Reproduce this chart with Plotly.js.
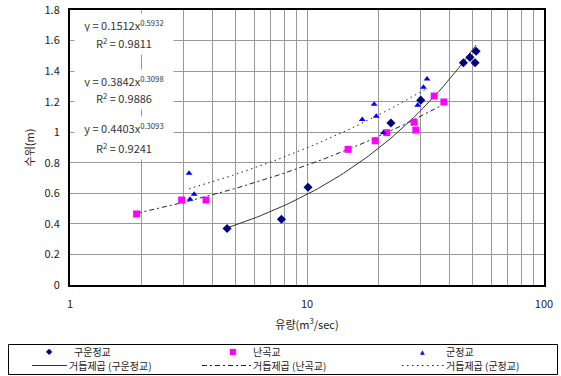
<!DOCTYPE html>
<html>
<head>
<meta charset="utf-8">
<script src="https://cdn.plot.ly/plotly-3.0.1.min.js"></script>
<style>html,body{margin:0;padding:0;background:#fff;}#chart{width:561px;height:376px;}</style>
</head>
<body>
<div id="chart"></div>
<script>
// Series names
const seriesNames = ['구운정교', '난곡교', '군정교'];
const trendNames = ['거듭제곱 (구운정교)', '거듭제곱 (난곡교)', '거듭제곱 (군정교)'];

// 구운정교 (discharge m3/sec, stage m)
const guunX = [4.6, 7.8, 10.1, 22.6, 30.2, 45.7, 48.7, 51.2, 51.7];
const guunY = [0.37, 0.43, 0.64, 1.06, 1.21, 1.455, 1.49, 1.455, 1.53];

// 난곡교
const nangokX = [1.91, 2.96, 3.75, 14.9, 19.4, 21.7, 28.3, 28.8, 34.4, 37.8];
const nangokY = [0.465, 0.556, 0.556, 0.888, 0.944, 0.997, 1.065, 1.014, 1.237, 1.198];

// 군정교
const gunjeongX = [3.18, 3.34, 3.21, 17.1, 19.2, 19.6, 21.0, 29.3, 31.0, 32.1];
const gunjeongY = [0.731, 0.594, 0.561, 1.084, 1.183, 1.104, 0.997, 1.176, 1.294, 1.348];

// Power-law trendline coefficients shown on chart: y = a * x^b
const trendA = [0.1512, 0.3842, 0.4403];
const trendB = [0.5932, 0.3098, 0.3093];
const trendR2 = ['0.9811', '0.9886', '0.9241'];

// Axis ticks
const yTicks = [0, 0.2, 0.4, 0.6, 0.8, 1, 1.2, 1.4, 1.6, 1.8];
const xMajorTicks = [1, 10, 100];
const xMinorTicks = [2,3,4,5,6,7,8,9,20,30,40,50,60,70,80,90];

const seriesX = [guunX, nangokX, gunjeongX];
const seriesY = [guunY, nangokY, gunjeongY];

function trendCurve(xs, a, b) {
  const lo = Math.min(...xs), hi = Math.max(...xs);
  const n = 60, px = [], py = [];
  for (let i = 0; i <= n; i++) {
    const x = Math.pow(10, Math.log10(lo) + (Math.log10(hi) - Math.log10(lo)) * i / n);
    px.push(x); py.push(a * Math.pow(x, b));
  }
  return {px, py};
}

const markerStyles = [
  {symbol: 'diamond', color: '#000080', size: 7, glyph: '◆', gsize: 8},
  {symbol: 'square', color: '#FF00FF', size: 7, glyph: '■', gsize: 8},
  {symbol: 'triangle-up', color: '#0000FF', size: 6, glyph: '▲', gsize: 6}
];
const lineStyles = [
  {color: '#333333', width: 1, dash: 'solid'},
  {color: '#222222', width: 1, dash: '5px,3px,2px,3px'},
  {color: '#222222', width: 1, dash: '1.5px,3.5px'}
];

const data = [];
for (let i = 0; i < 3; i++) {
  const c = trendCurve(seriesX[i], trendA[i], trendB[i]);
  data.push({
    x: c.px, y: c.py, type: 'scatter', mode: 'lines', name: trendNames[i],
    line: lineStyles[i], hoverinfo: 'skip'
  });
}
for (let i = 0; i < 3; i++) {
  data.push({
    x: seriesX[i], y: seriesY[i], type: 'scatter', mode: 'markers', name: seriesNames[i],
    marker: {symbol: markerStyles[i].symbol, color: markerStyles[i].color, size: markerStyles[i].size}
  });
}

const fam = 'Noto Sans CJK KR, DejaVu Sans, sans-serif';
const font = {family: fam, size: 11, color: '#222'};

// pixel -> paper conversion for layout items
const plotTop = 10, plotBottom = 285, plotLeft = 70, plotRight = 544;
function py2paper(py) { return (plotBottom - py) / (plotBottom - plotTop); }
function px2paper(px) { return (px - plotLeft) / (plotRight - plotLeft); }

// Equation annotations
const eqRows = [[25, 43], [81, 98], [128, 148]];
const annotations = [];
const shapes = [];
for (let i = 0; i < 3; i++) {
  annotations.push({
    xref: 'paper', yref: 'paper', x: px2paper(124), y: py2paper(eqRows[i][0]),
    text: 'y = ' + trendA[i].toFixed(4) + 'x<sup>' + trendB[i].toFixed(4) + '</sup>',
    showarrow: false, bgcolor: '#ffffff', width: 96, height: 20,
    font: {family: fam, size: 11, color: '#333'}, xanchor: 'center', yanchor: 'middle'
  });
  annotations.push({
    xref: 'paper', yref: 'paper', x: px2paper(124), y: py2paper(eqRows[i][1]),
    text: 'R<sup>2</sup> = ' + trendR2[i],
    showarrow: false, bgcolor: '#ffffff', width: 96, height: 20,
    font: {family: fam, size: 11, color: '#333'}, xanchor: 'center', yanchor: 'middle'
  });
}

// Legend box (drawn as layout shapes/annotations to match the compact Excel legend)
shapes.push({type: 'rect', xref: 'paper', yref: 'paper',
  x0: px2paper(8.5), x1: px2paper(557.5), y0: py2paper(344.5), y1: py2paper(374.5),
  line: {color: '#000', width: 1}, fillcolor: 'rgba(0,0,0,0)'});
const legRow = [351.5, 365.5];
const legMarkerX = [49, 233, 422];
const legNameX = [73, 252, 445];
const legLineX = [[32, 67], [202, 251], [402, 444]];
for (let i = 0; i < 3; i++) {
  annotations.push({
    xref: 'paper', yref: 'paper', x: px2paper(legMarkerX[i]), y: py2paper(legRow[0]),
    text: markerStyles[i].glyph, showarrow: false, xanchor: 'center', yanchor: 'middle',
    borderpad: 0,
    font: {family: 'DejaVu Sans', size: markerStyles[i].gsize, color: markerStyles[i].color}
  });
  annotations.push({
    xref: 'paper', yref: 'paper', x: px2paper(legNameX[i]), y: py2paper(legRow[0]),
    text: seriesNames[i], showarrow: false, xanchor: 'left', yanchor: 'middle',
    borderpad: 0,
    font: {family: fam, size: 10, color: '#222'}
  });
  shapes.push({type: 'line', xref: 'paper', yref: 'paper',
    x0: px2paper(legLineX[i][0]), x1: px2paper(legLineX[i][1]),
    y0: py2paper(legRow[1]), y1: py2paper(legRow[1]),
    line: {color: lineStyles[i].color, width: 1, dash: lineStyles[i].dash}});
  annotations.push({
    xref: 'paper', yref: 'paper', x: px2paper(legLineX[i][1] + 1), y: py2paper(legRow[1]),
    text: trendNames[i], showarrow: false, xanchor: 'left', yanchor: 'middle',
    borderpad: 0,
    font: {family: fam, size: 10, color: '#222'}
  });
}

const layout = {
  width: 561, height: 376,
  margin: {l: 70, r: 17, t: 10, b: 91},
  paper_bgcolor: '#ffffff', plot_bgcolor: '#ffffff',
  font: font,
  showlegend: false,
  xaxis: {
    type: 'log', range: [0, 2],
    tickvals: xMajorTicks, ticktext: ['1', '10', '100'],
    showgrid: true, gridcolor: '#999999', gridwidth: 1,
    minor: {tickvals: xMinorTicks, showgrid: true, gridcolor: '#999999', gridwidth: 1, ticks: ''},
    showline: true, linecolor: '#000', linewidth: 2, mirror: true,
    ticks: '', ticklabelstandoff: 8, zeroline: false,
    title: {text: '유량(m<sup>3</sup>/sec)', font: {family: fam, size: 11, color: '#222'}, standoff: 11}
  },
  yaxis: {
    range: [0, 1.8], tickvals: yTicks,
    showgrid: true, gridcolor: '#999999', gridwidth: 1,
    showline: true, linecolor: '#000', linewidth: 2, mirror: true,
    ticks: '', ticklabelstandoff: 6, zeroline: false,
    title: {text: '수위(m)', font: {family: fam, size: 11, color: '#222'}, standoff: 8}
  },
  annotations: annotations,
  shapes: shapes
};

Plotly.newPlot('chart', data, layout, {displayModeBar: false, staticPlot: true});
</script>
</body>
</html>
